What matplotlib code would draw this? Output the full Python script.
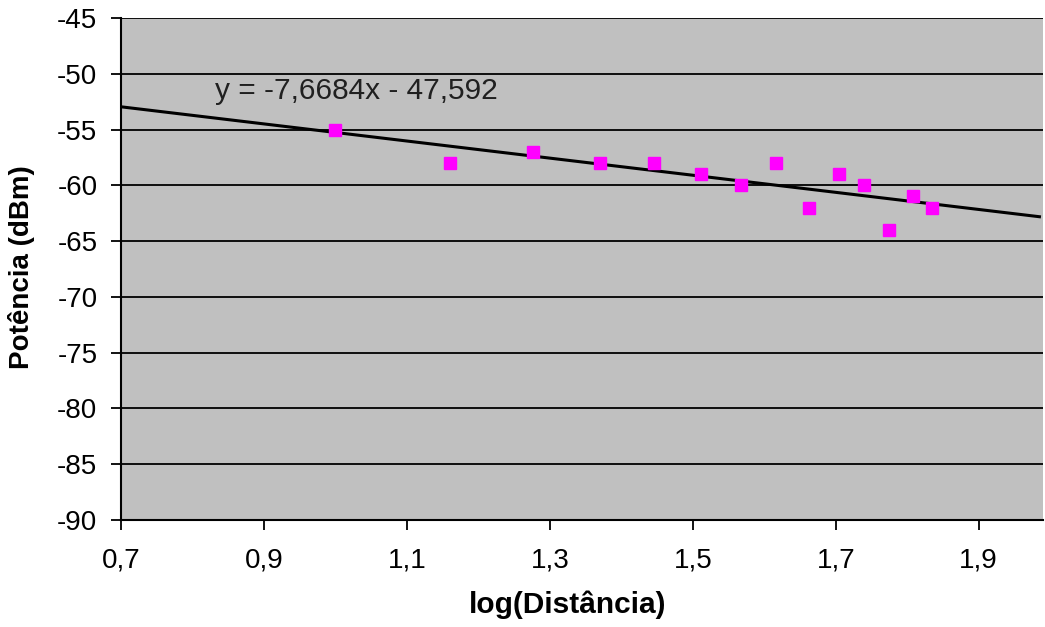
import matplotlib.pyplot as plt
import numpy as np

plt.rcParams['font.family'] = ['Liberation Sans', 'DejaVu Sans']

# log10 da distância e potência medida
log_distancia = [1.000, 1.161, 1.277, 1.370, 1.446, 1.511, 1.568, 1.617,
                 1.663, 1.704, 1.740, 1.775, 1.808, 1.835]
potencia_dbm = [-55, -58, -57, -58, -58, -59, -60, -58,
                -62, -59, -60, -64, -61, -62]

# linha de tendência (coeficientes da equação exibida)
coef_a = -7.6684
coef_b = -47.592
trend_range = (0.7, 1.985)

x_ticks = [0.7, 0.9, 1.1, 1.3, 1.5, 1.7, 1.9]
y_ticks = list(range(-90, -44, 5))

fig = plt.figure(figsize=(10.45, 6.27), dpi=100)
ax = fig.add_axes([121 / 1045, 1 - 520 / 627, (1043 - 121) / 1045, (520 - 18) / 627])
ax.set_facecolor('#C0C0C0')

ax.set_xlim(0.7, 1.99)
ax.set_ylim(-90, -45)

for yv in y_ticks:
    if yv > -90:
        ax.axhline(yv, color='black', lw=1.3, zorder=1)

xt = np.linspace(trend_range[0], trend_range[1], 200)
ax.plot(xt, coef_a * xt + coef_b, color='black', lw=2.2, zorder=2)

ax.plot(log_distancia, potencia_dbm, linestyle='none', marker='s',
        markersize=8, color='#FF00FF', zorder=3)

ax.text(0.832, -51.5, 'y = -7,6684x - 47,592', fontsize=21.5, va='center',
        ha='left', color='#202020')

ax.set_xticks(x_ticks)
ax.set_xticklabels([f'{v:.1f}'.replace('.', ',') for v in x_ticks])
ax.set_yticks(y_ticks)
ax.set_yticklabels([str(v) for v in y_ticks])
ax.tick_params(axis='both', direction='out', length=7, width=1.3,
               labelsize=20, colors='black')
ax.tick_params(axis='x', pad=13)
ax.tick_params(axis='y', pad=10)

for side in ['top', 'right']:
    ax.spines[side].set_visible(False)
for side in ['left', 'bottom']:
    ax.spines[side].set_linewidth(1.5)
    ax.spines[side].set_color('black')

ax.set_xlabel('log(Distância)', fontsize=21.5, fontweight='bold')
ax.xaxis.set_label_coords((568 - 121) / 922, -(605 - 520) / 502)
ax.xaxis.label.set_va('center')
ax.set_ylabel('Potência (dBm)', fontsize=20, fontweight='bold')
ax.yaxis.set_label_coords(-(121 - 22) / 922, (520 - 267) / 502)
ax.yaxis.label.set_va('center')

fig.savefig('out.png', dpi=100, facecolor='white')
